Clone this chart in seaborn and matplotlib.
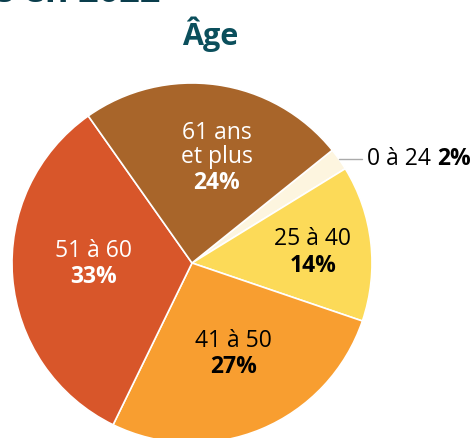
import numpy as np
import seaborn as sns
import matplotlib.pyplot as plt

# age groups, clockwise from the small slice at upper right
groups = ["0 à 24", "25 à 40", "41 à 50", "51 à 60", "61 ans\net plus"]
shares = [2, 14, 27, 33, 24]
slice_colors = ["#FDF5DF", "#FCDA58", "#F89E30", "#D8562A", "#A8652A"]
text_colors = ["black", "black", "black", "white", "white"]
label_radius = [None, 0.674, 0.555, 0.545, 0.535]
label_turn = [0, -1.5, 1.8, -4.0, -7.0]

sns.set_theme(style="white")
plt.rcParams['font.family'] = ['Open Sans', 'DejaVu Sans']

fig = plt.figure(figsize=(4.77, 4.38), dpi=100)
ax = fig.add_axes([12 / 477, -5 / 438, 360 / 477, 360 / 438])

wedges, _ = ax.pie(shares, colors=slice_colors, startangle=38.8, counterclock=False,
                   radius=1, wedgeprops=dict(edgecolor="white", linewidth=1.2))
ax.set_xlim(-1, 1)
ax.set_ylim(-1, 1)
ax.set_aspect("equal")
ax.axis("off")

fs = 16.5
for i, w in enumerate(wedges):
    mid = np.deg2rad((w.theta1 + w.theta2) / 2 + label_turn[i])
    if label_radius[i] is None:
        # small slice: label outside with a leader line
        x0, y0 = np.cos(mid), np.sin(mid)
        ax.plot([x0, 0.944], [y0, y0], color="#AAAAAA", lw=1, clip_on=False)
        t1 = ax.text(0.972, y0, groups[i] + " ", ha="left", va="center",
                     fontsize=fs, color=text_colors[i])
        ax.annotate(f"{shares[i]}%", xy=(1, 0), xycoords=t1, ha="left", va="bottom",
                    fontsize=fs, fontweight="bold", color=text_colors[i])
        continue
    r = label_radius[i]
    x, y = r * np.cos(mid), r * np.sin(mid)
    ax.text(x, y + 0.008, groups[i], ha="center", va="bottom", fontsize=fs,
            color=text_colors[i], linespacing=1.0)
    ax.text(x, y - 0.008, f"{shares[i]}%", ha="center", va="top", fontsize=fs,
            fontweight="bold", color=text_colors[i])

fig.text(210 / 477, 1 - 45 / 438, "Âge", ha="center", va="baseline", fontsize=22,
         fontweight="bold", color="#0B4F5C")
fig.text(160 / 477, 1 - 2 / 438, "Profil des membres en 2022", ha="right", va="baseline",
         fontsize=26, fontweight="bold", color="#0A3D4C")

fig.savefig("out.png", dpi=100)
